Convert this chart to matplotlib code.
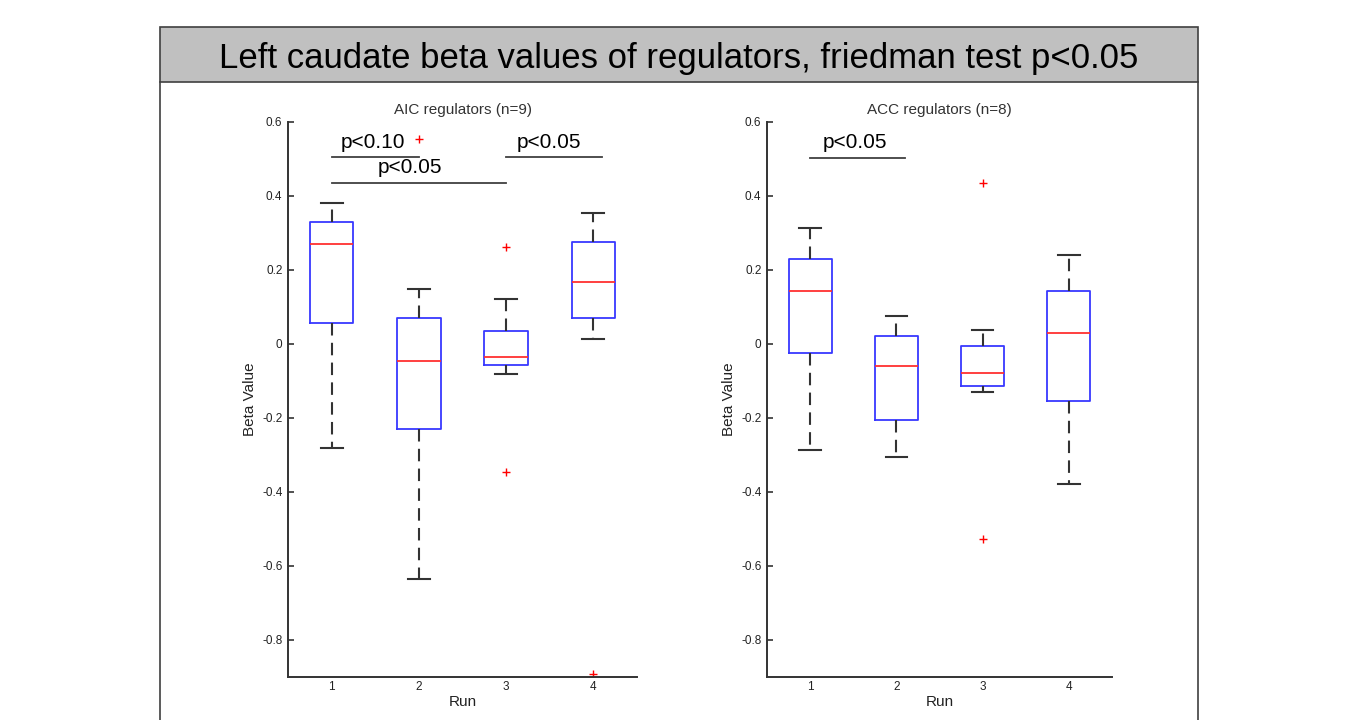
import matplotlib
matplotlib.use("Agg")
import matplotlib.pyplot as plt
from matplotlib.patches import Rectangle
from matplotlib.lines import Line2D

plt.rcParams['font.family'] = ['Liberation Sans', 'DejaVu Sans']

W, H = 1355, 720

# ---------------- data ----------------
runs = [1, 2, 3, 4]
run_labels = ["1", "2", "3", "4"]

# AIC regulators (n=9)
aic_whislo = [-0.282, -0.635, -0.082, 0.014]
aic_q1 = [0.057, -0.230, -0.058, 0.071]
aic_med = [0.270, -0.046, -0.034, 0.168]
aic_q3 = [0.331, 0.071, 0.036, 0.277]
aic_whishi = [0.382, 0.148, 0.121, 0.355]
aic_fliers = [[], [0.554], [0.263, -0.347], [-0.892]]

# ACC regulators (n=8)
acc_whislo = [-0.286, -0.305, -0.130, -0.378]
acc_q1 = [-0.025, -0.206, -0.114, -0.153]
acc_med = [0.143, -0.059, -0.078, 0.030]
acc_q3 = [0.229, 0.021, -0.005, 0.143]
acc_whishi = [0.314, 0.075, 0.037, 0.241]
acc_fliers = [[], [], [0.434, -0.526], []]

# significance brackets: (x_start, x_end, y_line, label, x_text, y_text)
aic_sig = [
    (1.0, 2.0, 0.505, "p<0.10", 1.47, 0.544),
    (1.0, 3.0, 0.436, "p<0.05", 1.90, 0.476),
    (3.0, 4.10, 0.505, "p<0.05", 3.49, 0.544),
]
acc_sig = [
    (1.0, 2.10, 0.504, "p<0.05", 1.52, 0.544),
]

suptitle = "Left caudate beta values of regulators, friedman test p<0.05"
titles = ["AIC regulators (n=9)", "ACC regulators (n=8)"]
ylabel = "Beta Value"
xlabel = "Run"
yticks = [-0.8, -0.6, -0.4, -0.2, 0, 0.2, 0.4, 0.6]
ytick_labels = ["-0.8", "-0.6", "-0.4", "-0.2", "0", "0.2", "0.4", "0.6"]

# ---------------- figure ----------------
fig = plt.figure(figsize=(W / 100, H / 100), dpi=100)

def fx(px):
    return px / W

def fy(py):
    return 1 - py / H

frame_col = "#404040"
# title band
fig.patches.append(Rectangle((fx(160), fy(81.7)), fx(1198) - fx(160), fy(26.7) - fy(81.7),
                             transform=fig.transFigure, facecolor="#c0c0c0",
                             edgecolor=frame_col, linewidth=1.2, zorder=0))
for xx in (160, 1198):
    fig.lines.append(Line2D([fx(xx), fx(xx)], [fy(81.7), 0], transform=fig.transFigure,
                            color=frame_col, linewidth=1.2))
fig.text(fx(679), fy(68.3), suptitle, ha="center", va="baseline", fontsize=25, color="black")

box_col = "#3838ff"
med_col = "#ff3030"
line_col = "#333333"

def make_stats(whislo, q1, med, q3, whishi, fliers):
    stats = []
    for i in range(len(med)):
        stats.append(dict(whislo=whislo[i], q1=q1[i], med=med[i], q3=q3[i],
                          whishi=whishi[i], fliers=fliers[i]))
    return stats

panels = [
    (fig.add_axes([fx(288), fy(677), fx(637) - fx(288), fy(122) - fy(677)]),
     make_stats(aic_whislo, aic_q1, aic_med, aic_q3, aic_whishi, aic_fliers), aic_sig, titles[0]),
    (fig.add_axes([fx(767), fy(677), fx(1112) - fx(767), fy(122) - fy(677)]),
     make_stats(acc_whislo, acc_q1, acc_med, acc_q3, acc_whishi, acc_fliers), acc_sig, titles[1]),
]

for ax, stats, sig, ttl in panels:
    ax.bxp(stats, positions=runs, widths=0.5, capwidths=0.25,
           boxprops=dict(color=box_col, linewidth=1.3),
           medianprops=dict(color=med_col, linewidth=1.3),
           whiskerprops=dict(color=line_col, linewidth=1.5, linestyle=(0, (6, 3.5))),
           capprops=dict(color=line_col, linewidth=1.5),
           flierprops=dict(marker="+", markeredgecolor="red", markersize=6,
                           markeredgewidth=1.0, linestyle="none"),
           manage_ticks=False)
    ax.set_xlim(0.5, 4.5)
    ax.set_ylim(-0.9, 0.6)
    ax.set_xticks(runs)
    ax.set_xticklabels(run_labels)
    ax.set_yticks(yticks)
    ax.set_yticklabels(ytick_labels)
    for s in ("top", "right"):
        ax.spines[s].set_visible(False)
    for s in ("left", "bottom"):
        ax.spines[s].set_color(line_col)
        ax.spines[s].set_linewidth(1.4)
    ax.tick_params(axis="y", direction="in", length=4, width=1.2, color=line_col,
                   labelsize=8.5, labelcolor="#222222", pad=4)
    ax.tick_params(axis="x", length=0, labelsize=8.5, labelcolor="#222222", pad=3)
    ax.set_title(ttl, fontsize=11, color="#333333", pad=6)
    ax.set_ylabel(ylabel, fontsize=11, color="#222222", labelpad=4)
    ax.set_xlabel(xlabel, fontsize=11, color="#222222", labelpad=1)
    for x0, x1, yl, lab, xt, yt in sig:
        ax.plot([x0, x1], [yl, yl], color="#404040", linewidth=1.3, clip_on=False)
        ax.text(xt, yt, lab, ha="center", va="center", fontsize=15, color="black")

fig.savefig("out.png", dpi=100)
